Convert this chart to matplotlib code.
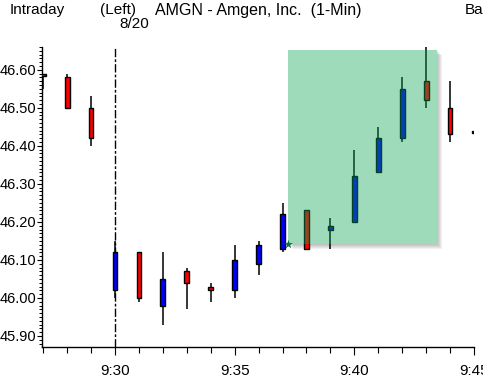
import matplotlib
matplotlib.use("Agg")
import matplotlib.pyplot as plt
from matplotlib.patches import Rectangle
from matplotlib.ticker import MultipleLocator, FuncFormatter

# 1-minute bars, AMGN 8/20
times = ["9:27", "9:28", "9:29", "9:30", "9:31", "9:32", "9:33", "9:34", "9:35", "9:36",
         "9:37", "9:38", "9:39", "9:40", "9:41", "9:42", "9:43", "9:44", "9:45"]
opens = [46.59, 46.58, 46.50, 46.02, 46.12, 45.98, 46.07, 46.03, 46.02, 46.09,
         46.13, 46.23, 46.18, 46.20, 46.33, 46.42, 46.57, 46.50, 46.435]
closes = [46.585, 46.50, 46.42, 46.12, 46.00, 46.05, 46.04, 46.02, 46.10, 46.14,
          46.22, 46.13, 46.19, 46.32, 46.42, 46.55, 46.52, 46.43, 46.44]
highs = [46.59, 46.59, 46.53, 46.15, 46.12, 46.12, 46.08, 46.04, 46.14, 46.15,
         46.25, 46.23, 46.21, 46.39, 46.45, 46.58, 46.67, 46.57, 46.44]
lows = [46.55, 46.50, 46.40, 46.00, 45.99, 45.93, 45.97, 45.99, 46.00, 46.06,
        46.12, 46.13, 46.13, 46.20, 46.33, 46.41, 46.50, 46.41, 46.435]

# highlighted zone
box_t = [37.24, 43.46]   # minutes past 9:00
box_p = [46.141, 46.652]

session_start = "9:30"


def to_min(s):
    h, m = s.split(":")
    return (int(h) - 9) * 60 + int(m)


plt.rcParams["font.family"] = ["Liberation Sans", "DejaVu Sans"]

fig = plt.figure(figsize=(4.83, 3.82), dpi=100)
ax = fig.add_axes([42 / 483, 35 / 382, 432 / 483, 300 / 382])

w = 0.2
for t, o, h, l, c in zip(times, opens, highs, lows, closes):
    x = to_min(t)
    ax.vlines(x, l, h, color="black", lw=1.1, zorder=2)
    col = "#0000ff" if c >= o else "#ff0000"
    ax.add_patch(Rectangle((x - w / 2, min(o, c)), w, max(abs(c - o), 0.003),
                           facecolor=col, edgecolor="black", lw=1.0, zorder=3))

# session divider
ax.axvline(to_min(session_start), color="black", lw=1.0,
           linestyle=(0, (6, 1.5, 2, 1.5)), zorder=2.5)

# shadow + highlight box
bw = box_t[1] - box_t[0]
bh = box_p[1] - box_p[0]
for k in range(1, 6):
    ax.add_patch(Rectangle((box_t[0] + 0.04 * k, box_p[0] - 0.0026 * k), bw, bh,
                           facecolor="#606060", alpha=0.09, lw=0, zorder=1))
ax.add_patch(Rectangle((box_t[0], box_p[0]), bw, bh, facecolor="white", lw=0, zorder=1.5))
ax.add_patch(Rectangle((box_t[0], box_p[0]), bw, bh, facecolor=(10 / 255, 165 / 255, 85 / 255),
                       alpha=0.4, lw=0, zorder=4))
ax.scatter([box_t[0]], [box_p[0]], marker="*", s=45, color="#107040", zorder=5, lw=0)

ax.set_xlim(26.95, 45.0)
ax.set_ylim(45.871, 46.66)

ax.spines["top"].set_visible(False)
ax.spines["right"].set_visible(False)
ax.spines["left"].set_linewidth(1.0)
ax.spines["bottom"].set_linewidth(1.0)

ax.xaxis.set_major_locator(MultipleLocator(5))
ax.xaxis.set_minor_locator(MultipleLocator(1))
ax.xaxis.set_major_formatter(FuncFormatter(lambda v, _: f"{9 + int(round(v)) // 60}:{int(round(v)) % 60:02d}"))
ax.yaxis.set_major_locator(MultipleLocator(0.1))
ax.yaxis.set_minor_locator(MultipleLocator(0.01))
ax.yaxis.set_major_formatter(FuncFormatter(lambda v, _: f"{v:.2f}"))

ax.tick_params(axis="x", which="major", direction="out", length=6, width=0.8,
               labelsize=11, pad=6)
ax.tick_params(axis="x", which="minor", direction="out", length=4.5, width=0.8)
ax.tick_params(axis="y", which="major", direction="out", length=3.5, width=0.8,
               labelsize=10.5, pad=0.5)
ax.tick_params(axis="y", which="minor", direction="out", length=2, width=0.7)

fig.text(10 / 483, 1 - 10 / 382, "Intraday", fontsize=11, va="center", ha="left")
fig.text(100 / 483, 1 - 10 / 382, "(Left)", fontsize=11, va="center", ha="left")
fig.text(155 / 483, 1 - 10 / 382, "AMGN - Amgen, Inc.  (1-Min)", fontsize=11.5, va="center", ha="left")
fig.text(465 / 483, 1 - 10 / 382, "Ba", fontsize=11, va="center", ha="left")
fig.text(119 / 483, 1 - 24 / 382, "8/20", fontsize=11, va="center", ha="left")

fig.savefig("out.png", dpi=100)
